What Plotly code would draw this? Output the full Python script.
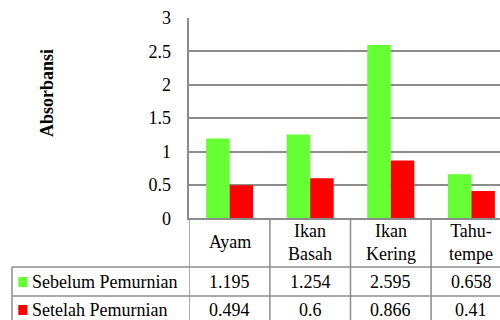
import plotly.graph_objects as go

# Data
categories = ["Ayam", "Ikan<br>Basah", "Ikan<br>Kering", "Tahu-<br>tempe"]
series_names = ["Sebelum Pemurnian", "Setelah Pemurnian"]
sebelum = [1.195, 1.254, 2.595, 0.658]
setelah = [0.494, 0.6, 0.866, 0.41]
y_ticks = [0, 0.5, 1, 1.5, 2, 2.5, 3]
y_tick_labels = ["0", "0.5", "1", "1.5", "2", "2.5", "3"]

series_values = [sebelum, setelah]
series_colors = ["#66FF33", "#FF0000"]

W, H = 500, 320
FONT = "'Liberation Serif', 'Times New Roman', Times, serif"
GRID = "#8c8c8c"


def px(x):
    return x / W


def py(y):
    return 1 - y / H


x_idx = list(range(len(categories)))

fig = go.Figure()
for name, vals, color in zip(series_names, series_values, series_colors):
    fig.add_trace(go.Bar(
        x=x_idx, y=vals, name=name,
        marker=dict(color=color, line=dict(width=0)),
        showlegend=False,
    ))

shapes = []
annotations = []

# Table grid
row_tops = [267, 296]
row_centers = [282, 310]
for yline in row_tops:
    shapes.append(dict(type="line", xref="paper", yref="paper",
                       x0=px(12), x1=1.0, y0=py(yline), y1=py(yline),
                       line=dict(color=GRID, width=1.5)))
shapes.append(dict(type="line", xref="paper", yref="paper",
                   x0=px(12), x1=px(12), y0=py(267), y1=0,
                   line=dict(color=GRID, width=1.5)))
shapes.append(dict(type="line", xref="x", yref="paper",
                   x0=-0.5, x1=-0.5, y0=py(218.3), y1=0,
                   line=dict(color=GRID, width=1.5)))
for i in range(len(categories) - 1):
    shapes.append(dict(type="line", xref="x", yref="paper",
                       x0=i + 0.5, x1=i + 0.5, y0=py(218.3), y1=0,
                       line=dict(color=GRID, width=1.5)))

# Category header cells
for i, cat in enumerate(categories):
    annotations.append(dict(x=i, y=py(242), xref="x", yref="paper",
                            text=cat, showarrow=False,
                            xanchor="center", yanchor="middle",
                            font=dict(family=FONT, size=18, color="black")))

# Series rows: legend key, label and values
for r, (name, vals, color) in enumerate(zip(series_names, series_values, series_colors)):
    yc = row_centers[r]
    shapes.append(dict(type="rect", xref="paper", yref="paper",
                       x0=px(18.3), x1=px(27.3), y0=py(yc - 5), y1=py(yc + 5),
                       fillcolor=color, line=dict(width=0)))
    annotations.append(dict(x=px(30), y=py(yc), xref="paper", yref="paper",
                            text=name, showarrow=False,
                            xanchor="left", yanchor="middle",
                            font=dict(family=FONT, size=18, color="black")))
    for i, v in enumerate(vals):
        annotations.append(dict(x=i, y=py(yc), xref="x", yref="paper",
                                text=str(v), showarrow=False,
                                xanchor="center", yanchor="middle",
                                font=dict(family=FONT, size=18, color="black")))

# Axis title
annotations.append(dict(x=px(47), y=py(93), xref="paper", yref="paper",
                        text="<b>Absorbansi</b>", showarrow=False, textangle=-90,
                        xanchor="center", yanchor="middle",
                        font=dict(family=FONT, size=18, color="black")))

fig.update_layout(
    width=W, height=H,
    margin=dict(l=0, r=0, t=0, b=0, autoexpand=False),
    paper_bgcolor="white", plot_bgcolor="white",
    barmode="group", bargap=0.417, bargroupgap=0,
    shapes=shapes, annotations=annotations,
    font=dict(family=FONT, size=18, color="black"),
    xaxis=dict(domain=[px(189.3), 1.0], range=[-0.5, 3.355],
               showticklabels=False, showgrid=False, zeroline=False,
               showline=True, linecolor=GRID, linewidth=1.5, ticks="",
               automargin=False),
    yaxis=dict(domain=[py(218.3), py(18)], range=[0, 3],
               tickvals=y_ticks, ticktext=y_tick_labels,
               showgrid=True, gridcolor=GRID, gridwidth=1.5,
               zeroline=False, showline=True, linecolor=GRID, linewidth=1.5,
               ticks="outside", ticklen=13, tickcolor="rgba(0,0,0,0)",
               automargin=False,
               tickfont=dict(family=FONT, size=18, color="black")),
)

fig.write_html("out.html")
